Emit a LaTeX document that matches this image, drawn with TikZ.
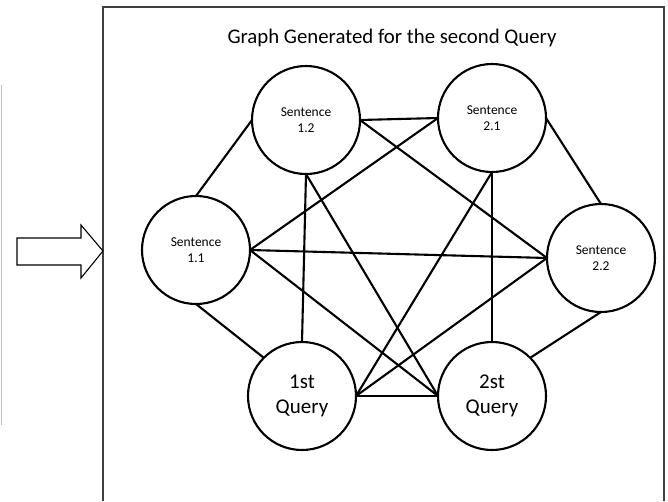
\documentclass[tikz,border=0pt]{standalone}
\usepackage{fontspec}
\setmainfont{Carlito}
\begin{document}
\begin{tikzpicture}[x=1pt,y=-1pt,
  vertex/.style={circle,draw,line width=2.1pt,minimum size=108pt,inner sep=0pt,outer sep=0pt,align=center},
  sent/.style={vertex,font=\fontsize{13.5}{16.5}\selectfont},
  query/.style={vertex,font=\fontsize{21}{25}\selectfont},
  link/.style={line width=2.1pt},
  frame/.style={line width=1.1pt,draw=black!75}]
\useasboundingbox (0,0) rectangle (668,501);
% faint edge of the neighbouring panel
\draw[black!25,line width=1pt] (1,85) -- (1,425);
% outer panel
\draw[frame] (103,501) -- (103,7) -- (664,7) -- (664,501);
% hollow block arrow
\draw[line width=1.1pt] (17,238) -- (81,238) -- (81,225) -- (103,251) -- (81,278) -- (81,265) -- (17,265) -- cycle;
% title
\node[font=\fontsize{20.8}{24}\selectfont] (title) at (392,38) {Graph Generated for the second Query};
% vertices
\node[sent] (s11) at (196,250) {Sentence\\1.1};
\node[sent] (s12) at (306,120) {Sentence\\1.2};
\node[sent] (s21) at (492,118) {Sentence\\2.1};
\node[sent] (s22) at (601,258) {Sentence\\2.2};
\node[query] (q1) at (302,396) {1st\\Query};
\node[query] (q2) at (492,396) {2st\\Query};
% edges
\draw[link] (s11.north) -- (s12.west);
\draw[link] (s11.south) -- (q1.north west);
\draw[link] (s11.east) -- (s21.west);
\draw[link] (s11.east) -- (s22.west);
\draw[link] (s11.east) -- (q2.west);
\draw[link] (s12.east) -- (s21.west);
\draw[link] (s12.east) -- (s22.west);
\draw[link] (s12.south) -- (q1.north);
\draw[link] (s12.south) -- (q2.west);
\draw[link] (s21.east) -- (s22.north);
\draw[link] (s21.south) -- (q2.north);
\draw[link] (s21.south) -- (q1.east);
\draw[link] (s22.west) -- (q1.east);
\draw[link] (s22.south) -- (q2.north east);
\draw[link] (q1.east) -- (q2.west);
\end{tikzpicture}
\end{document}
